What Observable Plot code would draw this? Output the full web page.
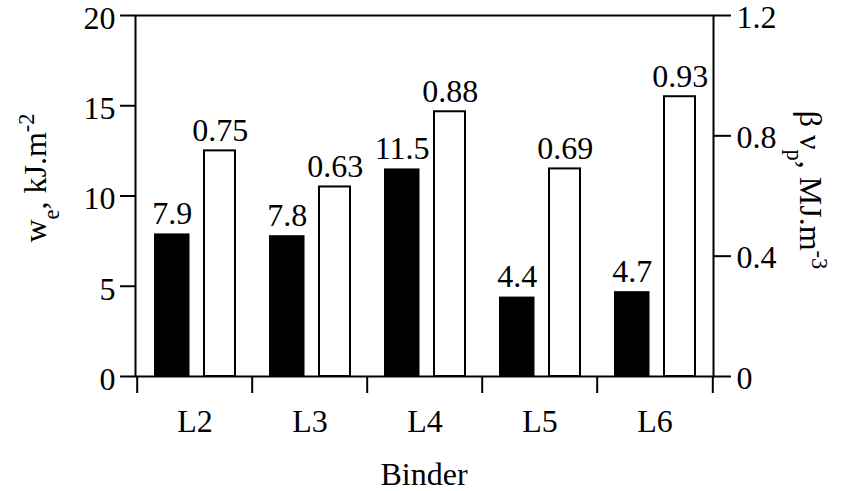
<!DOCTYPE html>
<html>
<head>
<meta charset="utf-8">
<script src="https://cdn.jsdelivr.net/npm/d3@7"></script>
<script src="https://cdn.jsdelivr.net/npm/@observablehq/plot@0.6"></script>
<style>
  body { margin: 0; background: #fff; }
</style>
</head>
<body>
<div id="chart"></div>
<script>
// Fracture parameters per binder
const binders = ["L2", "L3", "L4", "L5", "L6"];
const we = [7.9, 7.8, 11.5, 4.4, 4.7];            // w_e, kJ.m^-2 (left axis)
const betaWp = [0.75, 0.63, 0.88, 0.69, 0.93];    // β w_p, MJ.m^-3 (right axis)
const leftTicks = [0, 5, 10, 15, 20];
const rightTicks = [0, 0.4, 0.8, 1.2];
const leftMax = 20;
const rightMax = 1.2;

const k = leftMax / rightMax; // converts right-axis units to left-axis units

const rowsWe = binders.map((b, i) => ({binder: b, value: we[i]}));
const rowsWp = binders.map((b, i) => ({binder: b, value: betaWp[i]}));

const W = 841, H = 491;
const mL = 135, mR = 128, mT = 15, mB = 115;
const bw = (W - mL - mR) / binders.length;
const fs = 32;
const fontStack = "'Liberation Serif', 'Times New Roman', serif";
const rightFormat = d => String(+(d / k).toFixed(2));

const chart = Plot.plot({
  width: W,
  height: H,
  marginLeft: mL,
  marginRight: mR,
  marginTop: mT,
  marginBottom: mB,
  style: {background: "white", color: "black", overflow: "visible"},
  x: {domain: binders, padding: 0, axis: null},
  y: {domain: [0, leftMax], axis: null},
  marks: [
    Plot.barY(rowsWe, {x: "binder", y: "value", fill: "black", insetLeft: 17, insetRight: 62.5}),
    Plot.barY(rowsWp, {x: "binder", y: d => d.value * k, fill: "white", stroke: "black", strokeWidth: 2, insetLeft: 67, insetRight: 17}),
    Plot.text(rowsWe, {x: "binder", y: "value", text: d => String(d.value), dx: -22.8, dy: -10, lineAnchor: "bottom", fontSize: fs, fill: "black"}),
    Plot.text(rowsWp, {x: "binder", y: d => d.value * k, text: d => String(d.value), dx: 25.2, dy: -10, lineAnchor: "bottom", fontSize: fs, fill: "black"}),
    Plot.frame({stroke: "black", strokeWidth: 2}),
    // left axis: tick marks, then numbers
    Plot.axisY({ticks: leftTicks, tickSize: 15, tickFormat: () => "", strokeWidth: 2, label: null}),
    Plot.axisY({ticks: leftTicks, tickSize: 0, tickPadding: 20, fontSize: fs, dy: 3, label: null}),
    // right axis (β w_p units)
    Plot.axisY({anchor: "right", ticks: rightTicks.map(v => v * k), tickSize: 17, tickFormat: () => "", strokeWidth: 2, label: null}),
    Plot.axisY({anchor: "right", ticks: rightTicks.map(v => v * k), tickFormat: rightFormat, tickSize: 0, tickPadding: 23, fontSize: fs, dy: 2, label: null}),
    // category boundary ticks below the x axis
    Plot.axisX({tickSize: 17, tickFormat: () => "", dx: -bw / 2, strokeWidth: 2, label: null}),
    Plot.axisX({ticks: [binders[binders.length - 1]], tickSize: 17, tickFormat: () => "", dx: bw / 2, strokeWidth: 2, label: null}),
    // category names
    Plot.axisX({tickSize: 0, tickPadding: 33, fontSize: fs, label: null})
  ]
});

document.getElementById("chart").appendChild(chart);

// Axis titles with sub/superscripts
const svg = d3.select(chart);
const sub = (t, s) => t.append("tspan").attr("baseline-shift", "sub").attr("font-size", "70%").text(s);
const sup = (t, s) => t.append("tspan").attr("baseline-shift", "super").attr("font-size", "70%").text(s);

const left = svg.append("text")
  .attr("transform", "translate(46,178) rotate(-90)")
  .attr("text-anchor", "middle")
  .attr("font-size", fs)
  .attr("fill", "black");
left.append("tspan").text("w");
sub(left, "e");
left.append("tspan").text(", kJ.m");
sup(left, "-2");

const right = svg.append("text")
  .attr("transform", "translate(800,190) rotate(90)")
  .attr("text-anchor", "middle")
  .attr("font-size", fs)
  .attr("fill", "black");
right.append("tspan").text("β ν");
sub(right, "p");
right.append("tspan").text(", MJ.m");
sup(right, "-3");

svg.append("text")
  .attr("x", mL + (W - mL - mR) / 2)
  .attr("y", 485)
  .attr("text-anchor", "middle")
  .attr("font-size", fs)
  .attr("fill", "black")
  .text("Binder");

// Serif typeface for every label
svg.attr("font-family", fontStack).style("font-family", fontStack);
svg.selectAll("g").attr("font-family", null);
svg.selectAll("text").attr("font-family", fontStack).style("font-family", fontStack);
</script>
</body>
</html>
